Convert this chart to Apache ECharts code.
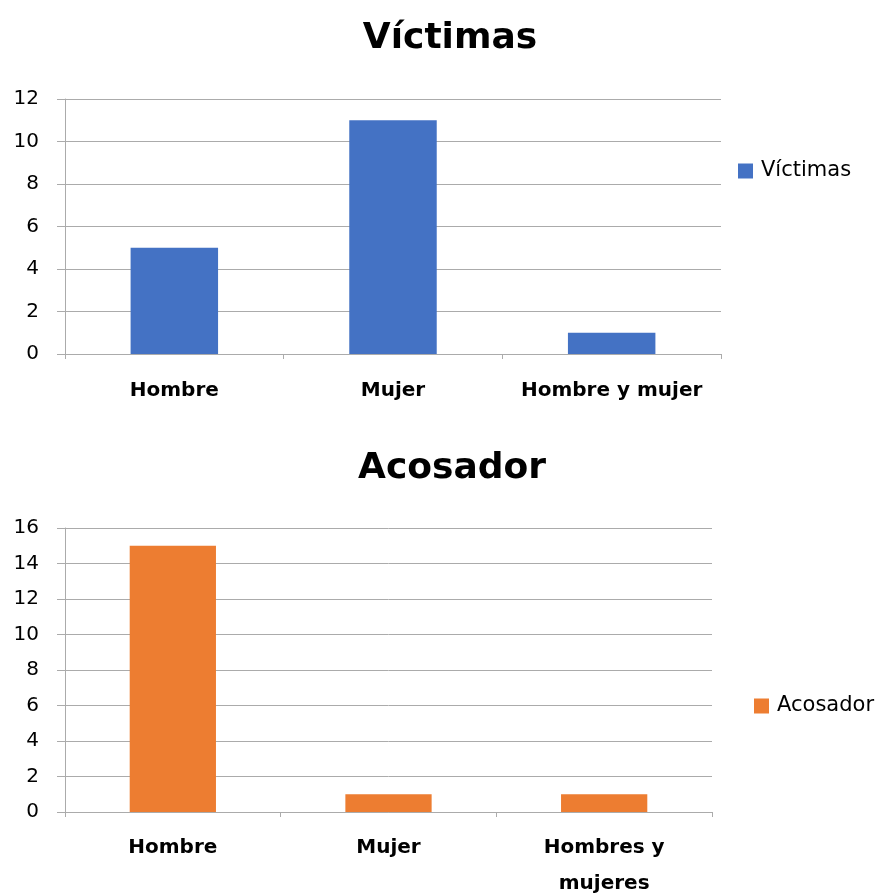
<!DOCTYPE html>
<html>
<head>
<meta charset="utf-8">
<script src="https://cdn.jsdelivr.net/npm/echarts@6/dist/echarts.min.js"></script>
<style>
  html, body { margin: 0; padding: 0; background: #fff; }
  #chart { width: 882px; height: 893px; }
</style>
</head>
<body>
<div id="chart"></div>
<script>
// Víctimas por sexo
const victimCategories = ['Hombre', 'Mujer', 'Hombre y mujer'];
const victimValues = [5, 11, 1];
const victimTicks = [0, 2, 4, 6, 8, 10, 12];

// Acosador por sexo
const harasserCategories = ['Hombre', 'Mujer', 'Hombres y\nmujeres'];
const harasserValues = [15, 1, 1];
const harasserTicks = [0, 2, 4, 6, 8, 10, 12, 14, 16];

const FONT = '"DejaVu Sans", sans-serif';
const LINE_GRAY = '#ababab';

function valueAxis(gridIndex, ticks) {
  return {
    type: 'value',
    gridIndex,
    min: ticks[0],
    max: ticks[ticks.length - 1],
    interval: ticks[1] - ticks[0],
    axisLine: { show: true, lineStyle: { color: LINE_GRAY, width: 1 } },
    axisTick: { show: true, length: 8, lineStyle: { color: LINE_GRAY } },
    splitLine: { show: true, lineStyle: { color: LINE_GRAY, width: 1 } },
    axisLabel: { color: '#000', fontSize: 20, fontFamily: FONT, margin: 26 }
  };
}

function categoryAxis(gridIndex, cats, margin) {
  return {
    type: 'category',
    gridIndex,
    data: cats,
    axisLine: { show: true, lineStyle: { color: LINE_GRAY, width: 1 } },
    axisTick: { show: true, length: 5, alignWithLabel: false, lineStyle: { color: LINE_GRAY } },
    axisLabel: {
      color: '#000', fontSize: 20, fontWeight: 'bold', fontFamily: FONT,
      margin, lineHeight: 36, interval: 0
    }
  };
}

function legendAt(name, left, top) {
  return {
    data: [name], orient: 'vertical', left, top, padding: 0,
    itemWidth: 15, itemHeight: 15, icon: 'rect',
    textStyle: { fontSize: 21, lineHeight: 22, fontFamily: FONT, color: '#000',
                 padding: [0, 0, 0, 3] }
  };
}

const titleStyle = { fontSize: 36, fontWeight: 'bold', fontFamily: FONT, color: '#000' };

const chart = echarts.init(document.getElementById('chart'), null, { renderer: 'canvas' });
chart.setOption({
  animation: false,
  backgroundColor: '#fff',
  title: [
    { text: 'Víctimas', left: 450, top: 21, textAlign: 'center', padding: 0, textStyle: titleStyle },
    { text: 'Acosador', left: 452, top: 451, textAlign: 'center', padding: 0, textStyle: titleStyle }
  ],
  legend: [
    legendAt('Víctimas', 738, 160),
    legendAt('Acosador', 754, 695)
  ],
  grid: [
    { left: 65, top: 99, width: 656, height: 255, outerBoundsMode: 'none' },
    { left: 65, top: 528, width: 647, height: 284, outerBoundsMode: 'none' }
  ],
  xAxis: [categoryAxis(0, victimCategories, 19), categoryAxis(1, harasserCategories, 18)],
  yAxis: [valueAxis(0, victimTicks), valueAxis(1, harasserTicks)],
  series: [
    { name: 'Víctimas', type: 'bar', xAxisIndex: 0, yAxisIndex: 0,
      data: victimValues, barWidth: '40%', itemStyle: { color: '#4472C4' } },
    { name: 'Acosador', type: 'bar', xAxisIndex: 1, yAxisIndex: 1,
      data: harasserValues, barWidth: '40%', itemStyle: { color: '#ED7D31' } }
  ]
});
</script>
</body>
</html>
